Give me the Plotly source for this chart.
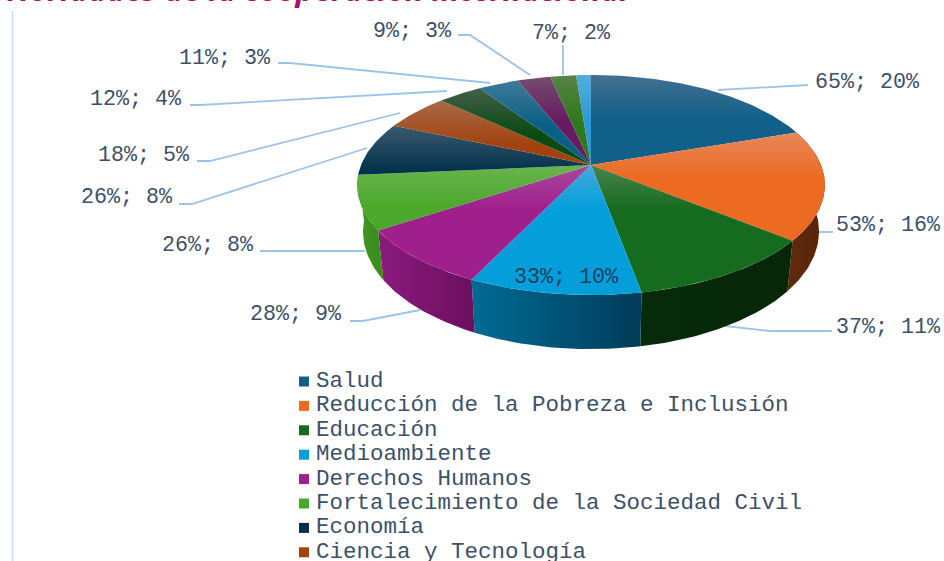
import math
import plotly.graph_objects as go

# ---- data ----
categories = ["Salud", "Reducción de la Pobreza e Inclusión", "Educación", "Medioambiente",
              "Derechos Humanos", "Fortalecimiento de la Sociedad Civil", "Economía",
              "Ciencia y Tecnología"]
counts = [65, 53, 37, 33, 28, 26, 26, 18, 12, 11, 9, 7, 4]
shares = [20, 16, 11, 10, 9, 8, 8, 5, 4, 3, 3, 2, None]

top_pure = ["#10608a", "#ec6a22", "#156b1e", "#049fdb", "#9f1f8d", "#4aa82a", "#03314b",
            "#a2420e", "#0b4a14", "#0a5f85", "#681a60", "#2f7a1d", "#2a9bd6"]
top_light = ["#44708f", "#e8875a", "#4a8350", "#44a8de", "#a8489c", "#68b44e", "#3a5a70",
             "#a86a48", "#445f48", "#3f7a98", "#744c70", "#5a8248", "#55aedc"]
wall_left = ["#0a4a6a", "#5f2a0c", "#062b0b", "#006b94", "#8c1a7e", "#429a22", "#03283d",
             "#7a300a", "#073010", "#07475f", "#4e1448", "#225a15", "#1f7ca8"]
wall_right = ["#0a4a6a", "#58240a", "#062608", "#003c5a", "#6b0f5e", "#358a1d", "#03283d",
              "#7a300a", "#073010", "#07475f", "#4e1448", "#225a15", "#1f7ca8"]

# ---- geometry of the tilted pie (pixel-based axes) ----
CX, Y0, A, B, K = 591.0, 165.0, 230.0, 106.4, 0.1818
SX_BOTTOM, SY_BOTTOM, Y0_BOTTOM = 0.975, 1.07, 210.0
TEXT = "#3d5069"
FONT = "Liberation Mono"


def top_pt(theta):
    X, Y = math.sin(theta), math.cos(theta)
    w = 1 + K * Y
    return CX + A * X / w, Y0 - B * Y / w


def bottom_pt(theta):
    X, Y = math.sin(theta), math.cos(theta)
    w = 1 + K * Y
    return CX + SX_BOTTOM * A * X / w, Y0_BOTTOM - SY_BOTTOM * B * Y / w


total = sum(counts)
edges = [0.0]
for c in counts:
    edges.append(edges[-1] + c / total * 2 * math.pi)

fig = go.Figure()

# walls: only the slices that face the viewer
for i in range(len(counts)):
    t0, t1 = edges[i], edges[i + 1]
    if math.cos((t0 + t1) / 2) > 0:
        continue
    n = max(6, int((t1 - t0) * 60))
    th = [t0 + (t1 - t0) * j / n for j in range(n + 1)]
    upper = [top_pt(t) for t in th]
    lower = [bottom_pt(t) for t in reversed(th)]
    pts = upper + lower + [upper[0]]
    xs = [p[0] for p in pts]
    ys = [p[1] for p in pts]
    fig.add_trace(go.Scatter(
        x=xs, y=ys, mode="lines", fill="toself", line=dict(width=0), hoverinfo="skip",
        fillgradient=dict(type="horizontal",
                          colorscale=[[0, wall_left[i]], [1, wall_right[i]]]),
        showlegend=False))

# top faces
for i in range(len(counts)):
    t0, t1 = edges[i], edges[i + 1]
    n = max(6, int((t1 - t0) * 60))
    th = [t0 + (t1 - t0) * j / n for j in range(n + 1)]
    arc = [top_pt(t) for t in th]
    pts = [(CX, Y0)] + arc + [(CX, Y0)]
    xs = [p[0] for p in pts]
    ys = [p[1] for p in pts]
    y_top = min(ys)
    fig.add_trace(go.Scatter(
        x=xs, y=ys, mode="lines", fill="toself", line=dict(width=0), hoverinfo="skip",
        fillgradient=dict(type="vertical", start=y_top, stop=y_top + 45,
                          colorscale=[[0, top_light[i]], [1, top_pure[i]]]),
        showlegend=False))

# leader lines (layout furniture)
leaders = [
    [(718, 90), (808, 85)],
    [(817, 232), (833, 232)],
    [(725, 326), (770, 331), (832, 331)],
    [(420, 310), (363, 321), (350, 321)],
    [(365, 251), (260, 251)],
    [(367, 148), (192, 204), (179, 204)],
    [(400, 113), (210, 161), (197, 161)],
    [(447, 91), (200, 105), (190, 105)],
    [(490, 83), (290, 63), (278, 63)],
    [(530, 75), (470, 35), (458, 35)],
    [(563, 75), (563, 45)],
]
shapes = []
for seg in leaders:
    path = "M " + " L ".join(f"{x},{y}" for x, y in seg)
    shapes.append(dict(type="path", path=path, xref="x", yref="y", layer="below",
                       line=dict(color="#9cc3e8", width=1.8)))
# left rule
shapes.append(dict(type="line", x0=12.5, x1=12.5, y0=11, y1=561, xref="x", yref="y",
                   line=dict(color="#c9dcf2", width=1.5)))

# data labels: (right edge x, centre y) per slice
label_pos = [(922, 82), (943, 225), (943, 327), (621, 277), (344, 314), (256, 245),
             (175, 197), (192, 155), (184, 99), (273, 58), (454, 31), (613, 33)]
annotations = []
for i, (x, y) in enumerate(label_pos):
    annotations.append(dict(
        x=x, y=y, xref="x", yref="y", xanchor="right", yanchor="middle", showarrow=False,
        text=f"{counts[i]}%; {shares[i]}%",
        font=dict(family=FONT, size=21.7, color="#17405f" if i == 3 else TEXT)))

# legend
LEG_Y0, LEG_DY = 381.0, 24.4
for i, name in enumerate(categories):
    y = LEG_Y0 + i * LEG_DY
    shapes.append(dict(type="rect", x0=299, x1=309, y0=y - 4.5, y1=y + 5.5, xref="x", yref="y",
                       line=dict(width=0), fillcolor=top_pure[i]))
    annotations.append(dict(
        x=313.5, y=y, xref="x", yref="y", xanchor="left", yanchor="middle", showarrow=False,
        text=name, font=dict(family=FONT, size=22.5, color=TEXT)))

# cropped title at the top edge
annotations.append(dict(
    x=632, y=12, xref="x", yref="y", xanchor="right", yanchor="bottom", showarrow=False,
    text="<b><i>Prioridades de la cooperación internacional</i></b>",
    font=dict(family="Open Sans", size=31, color="#a8116a")))

fig.update_layout(
    width=944, height=561, margin=dict(l=0, r=0, t=0, b=0),
    paper_bgcolor="white", plot_bgcolor="white", showlegend=False,
    xaxis=dict(range=[0, 944], visible=False, fixedrange=True),
    yaxis=dict(range=[561, 0], visible=False, fixedrange=True),
    shapes=shapes, annotations=annotations,
)
fig.write_html("out.html", config=dict(displayModeBar=False),
               post_script="document.body.style.margin='0';document.body.style.overflow='hidden';")
